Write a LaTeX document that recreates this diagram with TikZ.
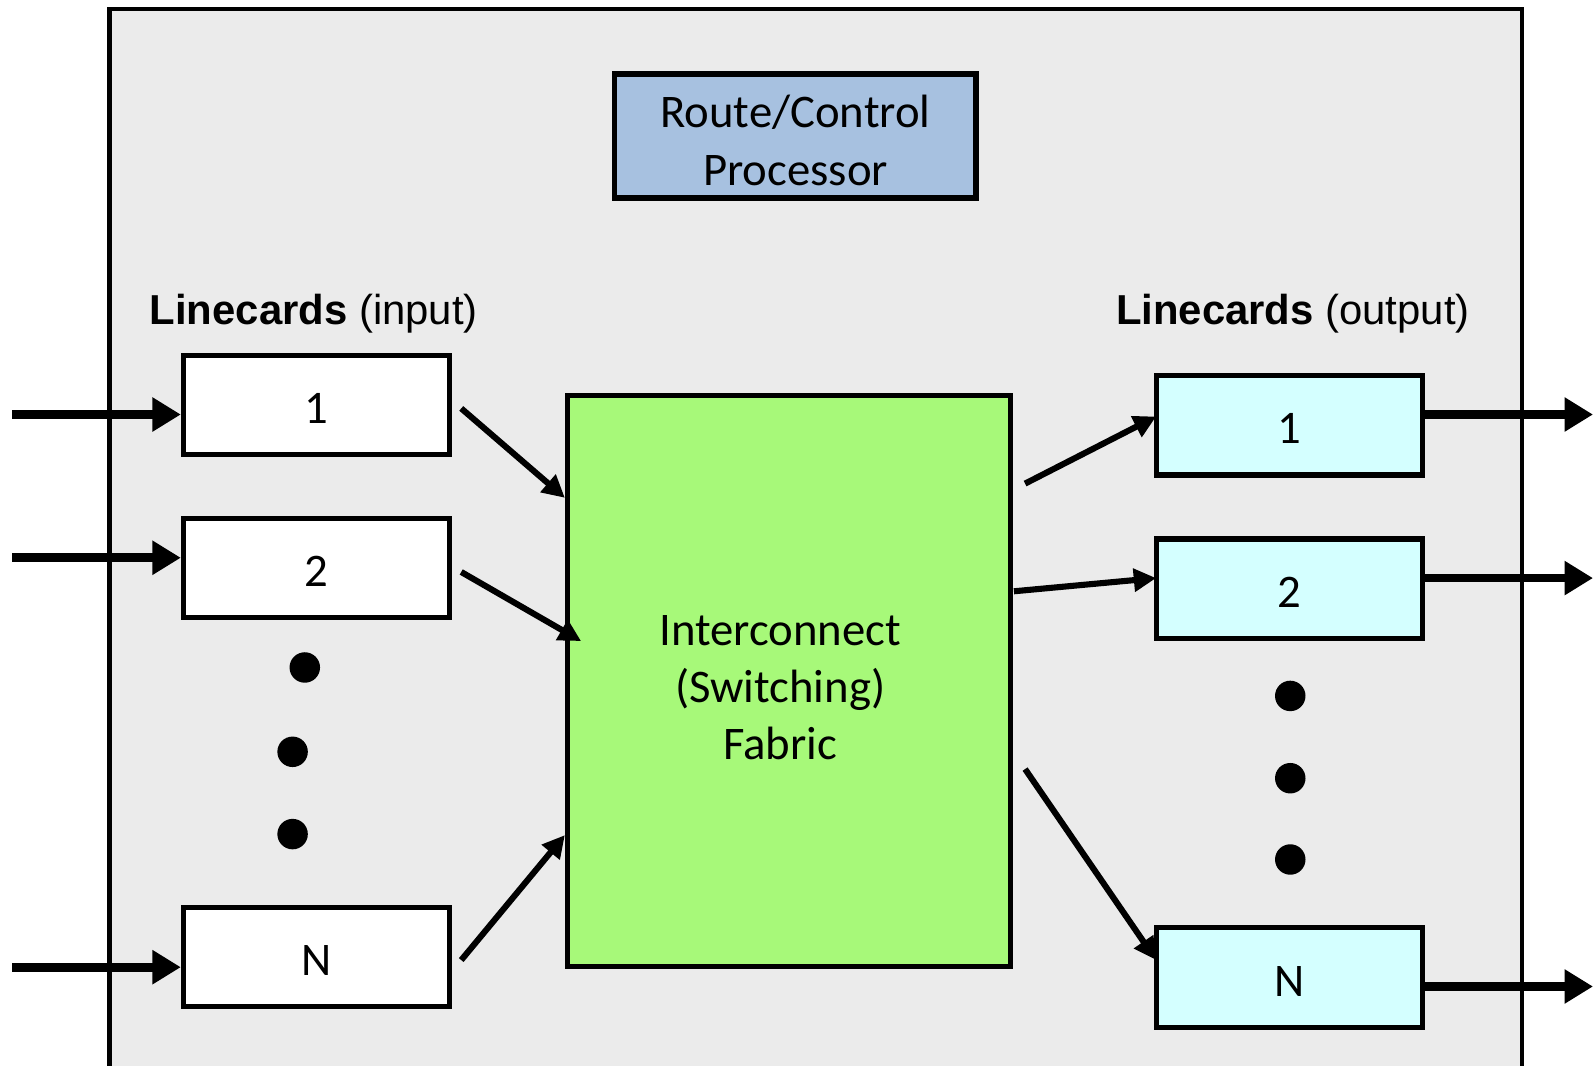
\documentclass[tikz,border=0pt]{standalone}
\usepackage{fontspec}
\setmainfont{Carlito}
\newfontfamily\arialf{Liberation Sans}
\usetikzlibrary{arrows.meta,calc}
\definecolor{bggray}{HTML}{EBEBEB}
\definecolor{rcpblue}{HTML}{A7C1E0}
\definecolor{fabgreen}{HTML}{A7F979}
\definecolor{outcyan}{HTML}{D4FFFF}
\tikzset{
  card/.style={draw=black, line width=2.5pt, inner sep=0pt, minimum width=131pt, minimum height=49pt, text height=18.5pt, text depth=0pt, font=\fontsize{23}{28}\selectfont},
  incard/.style={card, fill=white},
  outcard/.style={card, fill=outcyan},
  bigarrow/.style={line width=4.3pt, -{Triangle[length=14pt,width=16pt]}},
  thinarrow/.style={line width=3pt, -{Triangle[length=11pt,width=11pt]}},
  dotmark/.style={circle, fill=black, inner sep=0pt, minimum width=15pt, minimum height=13pt},
  heading/.style={font=\arialf\fontsize{20.6}{24}\selectfont, inner sep=0pt},
  boxtext/.style={align=center, inner sep=0pt, font=\fontsize{23}{28.5}\selectfont}
}
\begin{document}
\begin{tikzpicture}[x=0.5pt,y=-0.5pt]
\useasboundingbox (0,0) rectangle (1568,1049);
\fill[white] (0,0) rectangle (1568,1049);
% chassis
\fill[bggray] (108,9) rectangle (1498,1060);
\draw[line width=2.3pt] (108,1060) -- (108,9) -- (1498,9) -- (1498,1060);
% route/control processor
\node[draw=black, line width=2.8pt, fill=rcpblue, inner sep=0pt, minimum width=178pt, minimum height=61pt] (rcp) at (783,134) {};
\node[boxtext] (rcptxt) at (783,138.5) {Route/Control\\Processor};
% headings
\node[heading, anchor=west] (hin) at (147,309) {\textbf{Linecards} (input)};
\node[heading, anchor=east] (hout) at (1447,309) {\textbf{Linecards} (output)};
% fabric
\node[draw=black, line width=2.5pt, fill=fabgreen, inner sep=0pt, minimum width=218pt, minimum height=281pt] (fab) at (777,670) {};
\node[boxtext, font=\fontsize{23}{28}\selectfont] (fabtxt) at (768,677) {Interconnect\\(Switching)\\Fabric};
% input cards
\node[incard] (in1) at (311.5,398.5) {1};
\node[incard] (in2) at (311.5,559) {2};
\node[incard] (inN) at (311.5,942) {N};
% output cards
\node[outcard] (out1) at (1269.5,418.5) {1};
\node[outcard] (out2) at (1269.5,579.5) {2};
\node[outcard] (outN) at (1269.5,962) {N};
% dots
\node[dotmark] (d1) at (300,657) {};
\node[dotmark] (d2) at (288,740) {};
\node[dotmark] (d3) at (288,821) {};
\node[dotmark] (e1) at (1270,685) {};
\node[dotmark] (e2) at (1270,766) {};
\node[dotmark] (e3) at (1270,846) {};
% external inputs
\coordinate (i1) at (12,408);
\coordinate (i2) at (12,549);
\coordinate (iN) at (12,952);
\draw[bigarrow] (i1) -- (i1 -| in1.west);
\draw[bigarrow] (i2) -- (i2 -| in2.west);
\draw[bigarrow] (iN) -- (iN -| inN.west);
% external outputs
\coordinate (o1) at (1568,408);
\coordinate (o2) at (1568,569);
\coordinate (oN) at (1568,971);
\draw[bigarrow] (o1 -| out1.east) -- (o1);
\draw[bigarrow] (o2 -| out2.east) -- (o2);
\draw[bigarrow] (oN -| outN.east) -- (oN);
% input to fabric
\coordinate (s1) at (454,402);
\coordinate (s2) at (454,563);
\coordinate (sN) at (454,945);
\coordinate (f1) at (556,490);
\coordinate (f2) at (572,631);
\coordinate (fN) at (556,822);
\draw[thinarrow] (s1) -- (f1);
\draw[thinarrow] (s2) -- (f2);
\draw[thinarrow] (sN) -- (fN);
% fabric to output
\coordinate (t1) at (1009,476);
\coordinate (t2) at (998,582);
\coordinate (tN) at (1009,757);
\coordinate (g1) at (1138,410);
\coordinate (g2) at (1138,569);
\coordinate (gN) at (1138,945);
\draw[thinarrow] (t1) -- (g1);
\draw[thinarrow] (t2) -- (g2);
\draw[thinarrow] (tN) -- (gN);
\end{tikzpicture}
\end{document}
